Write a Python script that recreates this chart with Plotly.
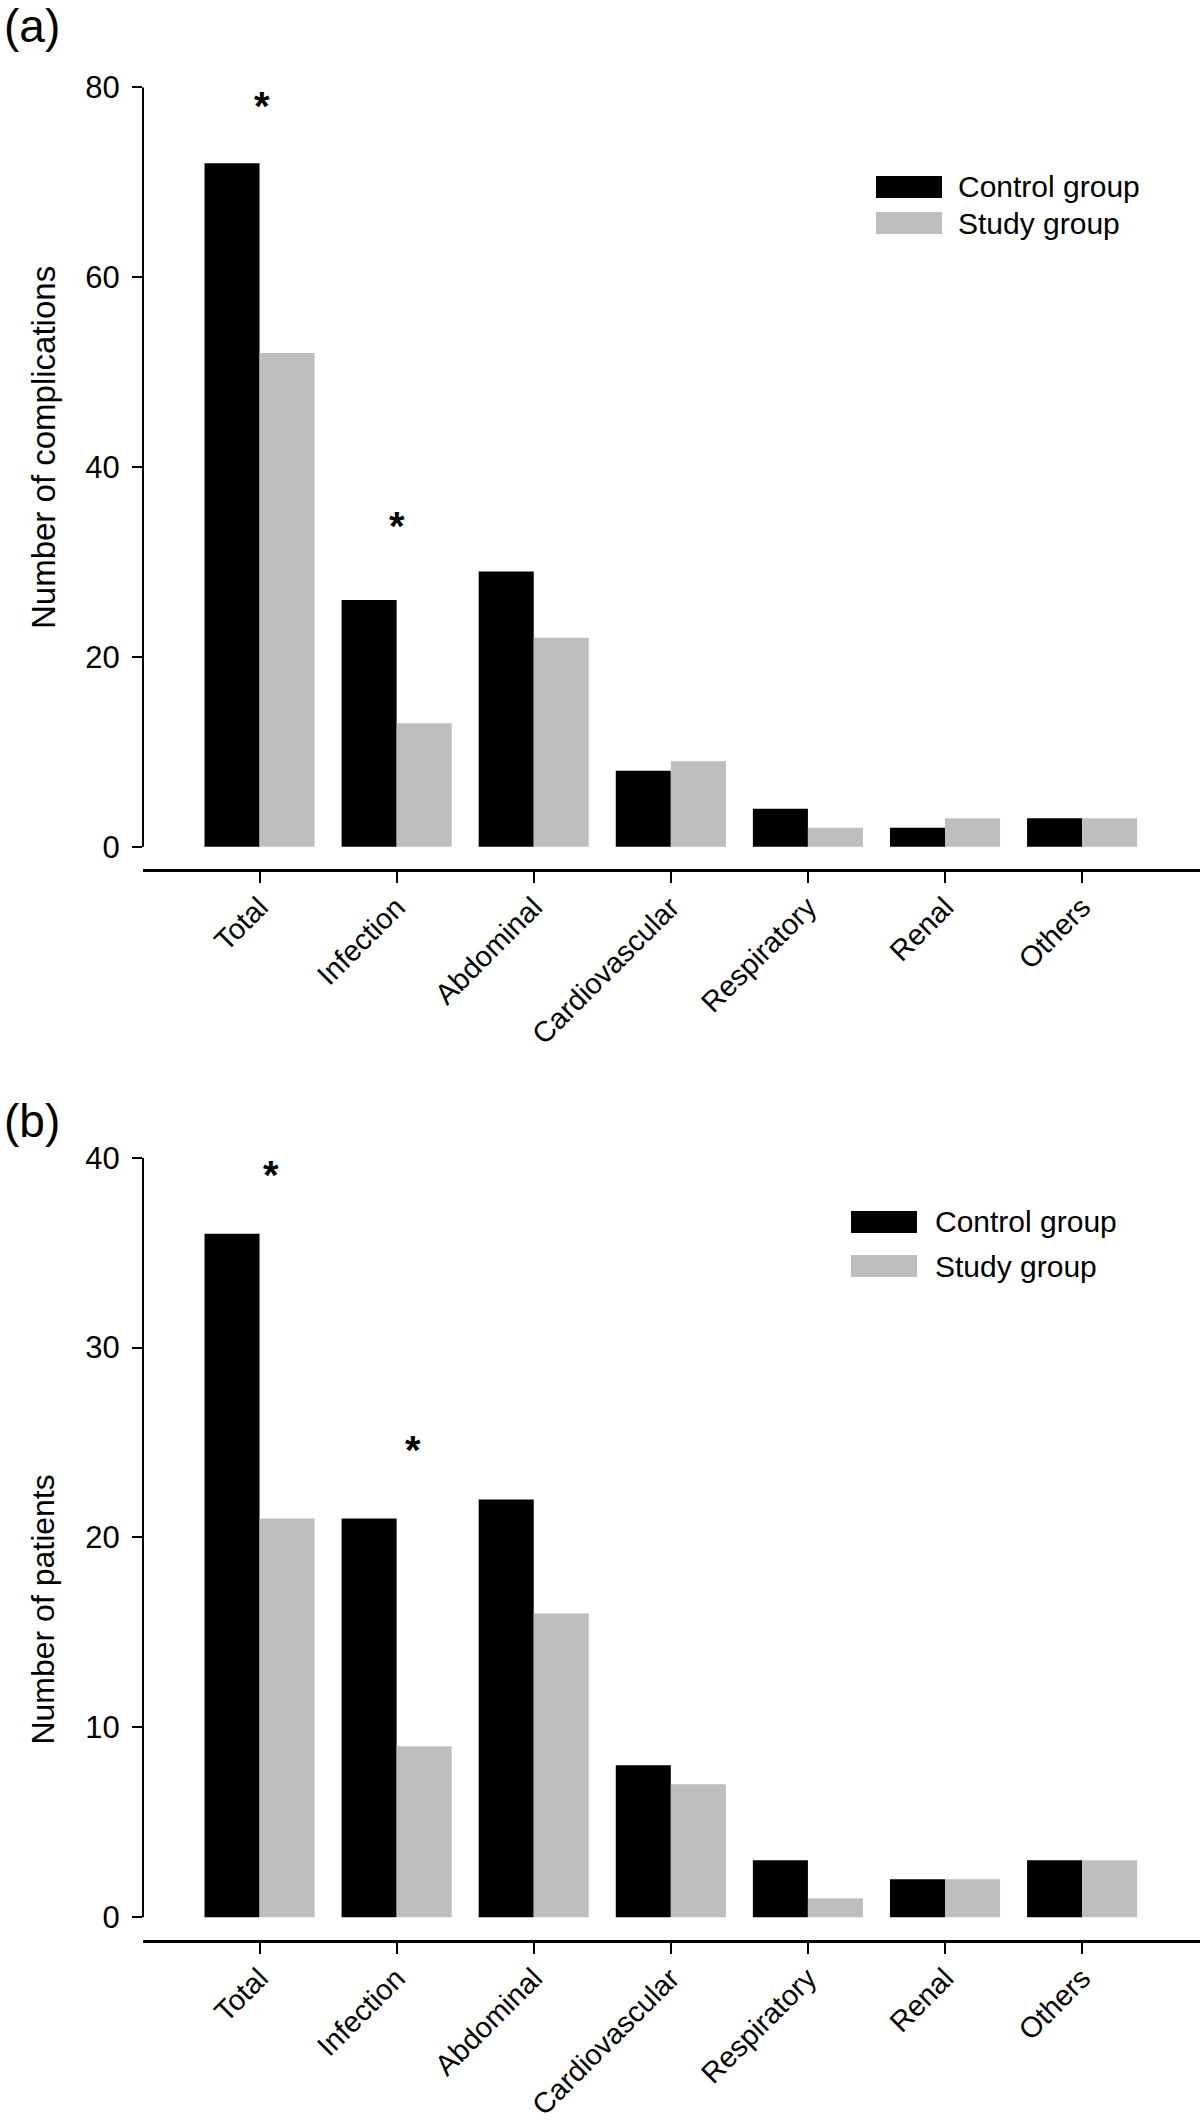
import plotly.graph_objects as go
from plotly.subplots import make_subplots

categories = ["Total", "Infection", "Abdominal", "Cardiovascular", "Respiratory", "Renal", "Others"]
control_complications = [72, 26, 29, 8, 4, 2, 3]
study_complications = [52, 13, 22, 9, 2, 3, 3]
control_patients = [36, 21, 22, 8, 3, 2, 3]
study_patients = [21, 9, 16, 7, 1, 2, 3]
yticks_a = [0, 20, 40, 60, 80]
yticks_b = [0, 10, 20, 30, 40]
series_names = ["Control group", "Study group"]

W, H = 1200, 2121
L = 143
FONT = "Liberation Sans, Arial, Helvetica, sans-serif"
BLACK = "#000000"
GREY = "#bebebe"

def py(px):
    return 1 - px / H

def px_x(px):
    return (px - L) / (W - L)

fig = make_subplots(rows=2, cols=1)

xidx = list(range(len(categories)))
fig.add_trace(go.Bar(x=xidx, y=control_complications, marker=dict(color=BLACK, line=dict(width=0)), name=series_names[0], showlegend=False), row=1, col=1)
fig.add_trace(go.Bar(x=xidx, y=study_complications, marker=dict(color=GREY, line=dict(width=0)), name=series_names[1], showlegend=False), row=1, col=1)
fig.add_trace(go.Bar(x=xidx, y=control_patients, marker=dict(color=BLACK, line=dict(width=0)), name=series_names[0], showlegend=False), row=2, col=1)
fig.add_trace(go.Bar(x=xidx, y=study_patients, marker=dict(color=GREY, line=dict(width=0)), name=series_names[1], showlegend=False), row=2, col=1)

xcommon = dict(
    range=[-0.85, 6.86], tickmode="array", tickvals=xidx, ticktext=categories,
    tickangle=-45, ticks="outside", ticklen=11, tickwidth=2, tickcolor=BLACK,
    showline=True, linecolor=BLACK, linewidth=2.5, showgrid=False, zeroline=False,
    ticklabelstandoff=-4,
    tickfont=dict(family=FONT, size=29, color=BLACK), domain=[0, 1], automargin=False,
)
fig.update_xaxes(**xcommon, row=1, col=1)
fig.update_xaxes(**xcommon, row=2, col=1)

ycommon = dict(
    ticks="outside", ticklen=10, tickwidth=2, tickcolor=BLACK, showline=False,
    showgrid=False, zeroline=False, tickmode="array", automargin=False,
    ticklabelstandoff=6,
    tickfont=dict(family=FONT, size=31, color=BLACK),
)
fig.update_yaxes(**ycommon, range=[-2.35, 80], tickvals=yticks_a,
                 domain=[py(869), py(87.3)], row=1, col=1)
fig.update_yaxes(**ycommon, range=[-1.2, 40], tickvals=yticks_b,
                 domain=[py(1940), py(1157.7)], row=2, col=1)

shapes = []
# y-axis lines spanning only the tick range (R style)
shapes.append(dict(type="line", xref="x domain", yref="y", x0=0, x1=0, y0=0, y1=80, line=dict(color=BLACK, width=2)))
shapes.append(dict(type="line", xref="x2 domain", yref="y2", x0=0, x1=0, y0=0, y1=40, line=dict(color=BLACK, width=2)))

annotations = []

# manual legends (large swatches)
def legend(x0px, ytops, textx):
    for (yt, col, name) in zip(ytops, [BLACK, GREY], series_names):
        shapes.append(dict(type="rect", xref="paper", yref="paper",
                           x0=px_x(x0px), x1=px_x(x0px + 66), y0=py(yt + 22), y1=py(yt),
                           fillcolor=col, line=dict(width=0)))
        annotations.append(dict(text=name, xref="paper", yref="paper", x=px_x(textx), y=py(yt + 11),
                                xanchor="left", yanchor="middle", showarrow=False,
                                font=dict(family=FONT, size=30, color=BLACK)))

legend(876, [176, 212], 956)
legend(851, [1211, 1255], 933)

# panel labels
annotations.append(dict(text="(a)", xref="paper", yref="paper", x=px_x(2), y=py(-2), xanchor="left", yanchor="top",
                        showarrow=False, font=dict(family=FONT, size=46, color=BLACK)))
annotations.append(dict(text="(b)", xref="paper", yref="paper", x=px_x(2), y=py(1093), xanchor="left", yanchor="top",
                        showarrow=False, font=dict(family=FONT, size=46, color=BLACK)))

# axis titles
annotations.append(dict(text="Number of complications", xref="paper", yref="y", x=px_x(43), y=42,
                        xanchor="center", yanchor="middle", textangle=-90, showarrow=False,
                        font=dict(family=FONT, size=33, color=BLACK)))
annotations.append(dict(text="Number of patients", xref="paper", yref="y2", x=px_x(43), y=16.2,
                        xanchor="center", yanchor="middle", textangle=-90, showarrow=False,
                        font=dict(family=FONT, size=32, color=BLACK)))

# significance stars
stars = [("x", "y", 0.02, 78.0), ("x", "y", 1.0, 33.8), ("x2", "y2", 0.08, 39.1), ("x2", "y2", 1.12, 24.6)]
for xr, yr, xv, yv in stars:
    annotations.append(dict(text="<b>*</b>", xref=xr, yref=yr, x=xv, y=yv, showarrow=False,
                            xanchor="center", yanchor="middle", font=dict(family=FONT, size=40, color=BLACK)))

fig.update_layout(
    width=W, height=H, margin=dict(l=L, r=0, t=0, b=0, autoexpand=False),
    paper_bgcolor="white", plot_bgcolor="white",
    barmode="group", bargap=0.197, bargroupgap=0,
    shapes=shapes, annotations=annotations, showlegend=False,
    font=dict(family=FONT, color=BLACK),
)
fig.write_html("out.html", config={"displayModeBar": False},
               post_script="document.body.style.margin='0';document.body.style.padding='0';")
